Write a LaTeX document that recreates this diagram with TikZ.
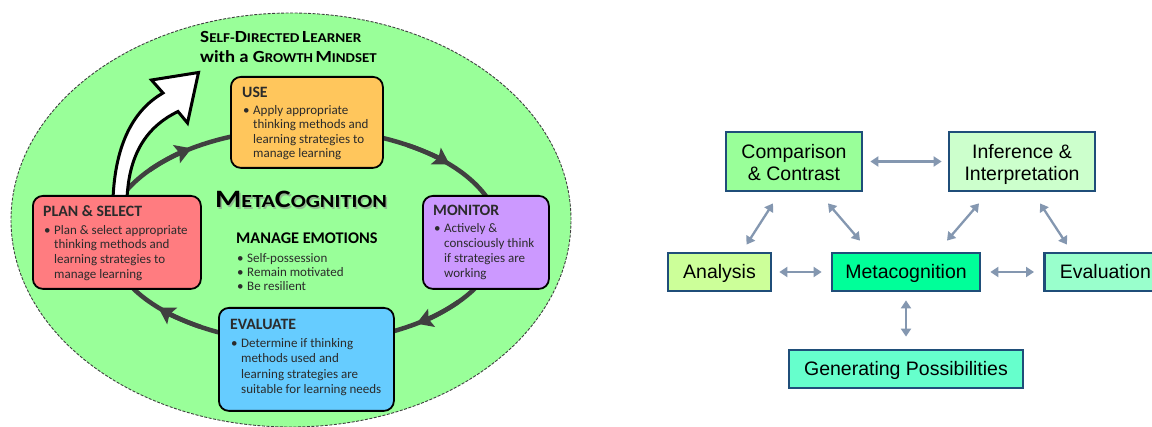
\documentclass[tikz,border=0pt]{standalone}
\usepackage{fontspec}
\usepackage{graphicx}
\setmainfont{Carlito}
\newfontfamily\arialf{Liberation Sans}
\usetikzlibrary{arrows.meta,calc}
\definecolor{ellg}{HTML}{99FF99}
\definecolor{usec}{HTML}{FFC65C}
\definecolor{planc}{HTML}{FF7C80}
\definecolor{monc}{HTML}{CC99FF}
\definecolor{evac}{HTML}{66CCFF}
\definecolor{cycc}{HTML}{404040}
\definecolor{txtc}{HTML}{2B2B2B}
\definecolor{navy}{HTML}{1F4E79}
\definecolor{arrc}{HTML}{8497B0}
\definecolor{fa}{HTML}{99FF99}
\definecolor{fb}{HTML}{CCFFCC}
\definecolor{fc}{HTML}{CCFF99}
\definecolor{fd}{HTML}{00FF99}
\definecolor{fe}{HTML}{99FFCC}
\definecolor{ff}{HTML}{66FFCC}
\newcommand\bul{\makebox[11pt][l]{\hspace{1pt}•}}
\newcommand\ind{\hspace*{11pt}}
\newcommand\bgc[1]{{\fontsize{17}{20}\selectfont #1}}
\newcommand\smc[1]{{\fontsize{13.5}{20}\selectfont #1}}
\newcommand\ttl[1]{{\fontsize{15.8}{17}\selectfont\bfseries #1}}
\begin{document}
\begin{tikzpicture}[x=1pt,y=1pt,
  lbox/.style={draw=black, line width=1.8pt, rounded corners=10pt, anchor=north west, inner sep=0pt},
  ltxt/.style={anchor=north west, inner sep=0pt, align=left, text=txtc, font=\fontsize{13}{14.9}\selectfont},
  cyc/.style={draw=cycc, line width=4.5pt},
  cyctip/.style={cyc, -{Stealth[width=19pt,length=16pt,inset=3pt]}},
  rbox/.style={draw=navy, line width=2.8pt, inner sep=0pt, align=center, text=black, font=\arialf\fontsize{19.5}{22}\selectfont},
  one/.style={text height=14pt, text depth=0pt},
  darr/.style={draw=arrc, line width=2.3pt, {Triangle[width=10pt,length=8pt]}-{Triangle[width=10pt,length=8pt]}}
  ]
\useasboundingbox (0,-427) rectangle (1152,0);
\fill[white] (0,-427) rectangle (1152,0);
% big green ellipse
\fill[ellg] (291,-220) ellipse[x radius=280, y radius=207];
\draw[cycc, line width=0.9pt, dash pattern=on 3pt off 1.5pt] (291,-220) ellipse[x radius=280, y radius=207];
% cycle
\coordinate (cc) at (304,-236);
\draw[cyc] (cc) ellipse[x radius=196, y radius=107];
\draw[cyctip] ($(cc)+(142:196 and 107)$) arc[start angle=142, end angle=125, x radius=196, y radius=107];
\draw[cyctip] ($(cc)+(58:196 and 107)$) arc[start angle=58, end angle=42, x radius=196, y radius=107];
\draw[cyctip] ($(cc)+(-38:196 and 107)$) arc[start angle=-38, end angle=-55, x radius=196, y radius=107];
\draw[cyctip] ($(cc)+(-122:196 and 107)$) arc[start angle=-122, end angle=-138, x radius=196, y radius=107];
% big white arrow
\draw[line width=3pt, fill=white, line join=miter, miter limit=10]
  (113,-199) .. controls (115,-150) and (130,-112) .. (163,-93)
  -- (151.5,-80) -- (198.5,-72.5) -- (187.5,-123) -- (178,-111.5)
  .. controls (150,-125) and (129,-150) .. (127,-199) -- cycle;
% headings
\node[anchor=base west, inner sep=0pt] (sdl1) at (200,-42.3)
  {\bfseries\scalebox{1.13}[1]{\bgc{S}\smc{ELF-}\bgc{D}\smc{IRECTED} \bgc{L}\smc{EARNER}}};
\node[anchor=base west, inner sep=0pt] (sdl2) at (200,-62.7)
  {\bfseries\scalebox{1.1}[1]{\bgc{with a G}\smc{ROWTH} \bgc{M}\smc{INDSET}}};
\node[anchor=base west, inner sep=0pt, text=black!45, opacity=0.6] (metash) at (216.5,-209.5)
  {\bfseries\scalebox{1.2}[1]{{\fontsize{25}{30}\selectfont M}{\fontsize{18.5}{30}\selectfont ETA}{\fontsize{25}{30}\selectfont C}{\fontsize{18.5}{30}\selectfont OGNITION}}};
\node[anchor=base west, inner sep=0pt, text=black] (meta) at (215,-208)
  {\bfseries\scalebox{1.2}[1]{{\fontsize{25}{30}\selectfont M}{\fontsize{18.5}{30}\selectfont ETA}{\fontsize{25}{30}\selectfont C}{\fontsize{18.5}{30}\selectfont OGNITION}}};
\node[ltxt, font=\fontsize{13}{14.3}\selectfont] (emo) at (236,-232.5)
  {{\fontsize{16.3}{17}\selectfont\bfseries\color{black} MANAGE EMOTIONS}\\[4.5pt]
   \bul Self-possession\\ \bul Remain motivated\\ \bul Be resilient};
% boxes
\node[lbox, fill=usec, minimum width=152pt, minimum height=91pt] (use) at (230,-76) {};
\node[ltxt, font=\fontsize{13}{14.6}\selectfont] (useT) at ([xshift=12pt,yshift=-11pt]use.north west)
  {\ttl{USE}\\[2pt] \bul Apply appropriate\\ \ind thinking methods and\\ \ind learning strategies to\\ \ind manage learning};
\node[lbox, fill=planc, minimum width=168pt, minimum height=93pt] (plan) at (32,-195) {};
\node[ltxt] (planT) at ([xshift=11pt,yshift=-10pt]plan.north west)
  {\ttl{PLAN \& SELECT}\\[3pt] \bul Plan \& select appropriate\\ \ind thinking methods and\\ \ind learning strategies to\\ \ind manage learning};
\node[lbox, fill=monc, minimum width=126pt, minimum height=93pt] (mon) at (422,-195) {};
\node[ltxt] (monT) at ([xshift=11pt,yshift=-9.5pt]mon.north west)
  {\ttl{MONITOR}\\[3pt] \bul Actively \&\\ \ind consciously think\\ \ind if strategies are\\ \ind working};
\node[lbox, fill=evac, minimum width=175pt, minimum height=103pt] (eva) at (218,-307) {};
\node[ltxt, font=\fontsize{13}{15.5}\selectfont] (evaT) at ([xshift=12pt,yshift=-12pt]eva.north west)
  {\ttl{EVALUATE}\\[2.5pt] \bul Determine if thinking\\ \ind methods used and\\ \ind learning strategies are\\ \ind suitable for learning needs};
% right diagram
\node[rbox, fill=fa, minimum width=136pt, minimum height=59pt] (comp) at (794,-161.5) {};
\node[rbox, draw=none, anchor=base] (compT) at (794,-180.3) {Comparison\\\& Contrast};
\node[rbox, fill=fb, minimum width=146pt, minimum height=59pt] (inf) at (1022,-161.5) {};
\node[rbox, draw=none, anchor=base] (infT) at (1022,-180.3) {Inference \&\\Interpretation};
\node[rbox, one, fill=fc, minimum width=103pt, minimum height=38pt] (ana) at (719.5,-272) {Analysis};
\node[rbox, one, fill=fd, minimum width=148pt, minimum height=38pt] (mc) at (906,-272) {Metacognition};
\node[rbox, one, fill=fe, minimum width=122pt, minimum height=38pt, anchor=west] (evl) at (1043,-272) {Evaluation};
\node[rbox, one, fill=ff, minimum width=234pt, minimum height=38pt] (gen) at (906,-369) {Generating Possibilities};
\draw[darr, shorten <=7pt, shorten >=6pt] (comp.east) -- (inf.west);
\draw[darr] ($(comp.south)+(-21,-11)$) -- ($(ana.north)+(27,7)$);
\draw[darr] ($(comp.south)+(34,-11)$) -- ($(mc.north)+(-46,11)$);
\draw[darr] ($(inf.south)+(-43,-11)$) -- ($(mc.north)+(41,11)$);
\draw[darr] ($(inf.south)+(18,-11)$) -- ($(evl.north west)+(24,7)$);
\draw[darr, shorten <=7pt, shorten >=9pt] (ana.east) -- (mc.west);
\draw[darr, shorten <=9pt, shorten >=9pt] (mc.east) -- (evl.west);
\draw[darr, shorten <=8pt, shorten >=12pt] (mc.south) -- (gen.north);
\end{tikzpicture}
\end{document}
